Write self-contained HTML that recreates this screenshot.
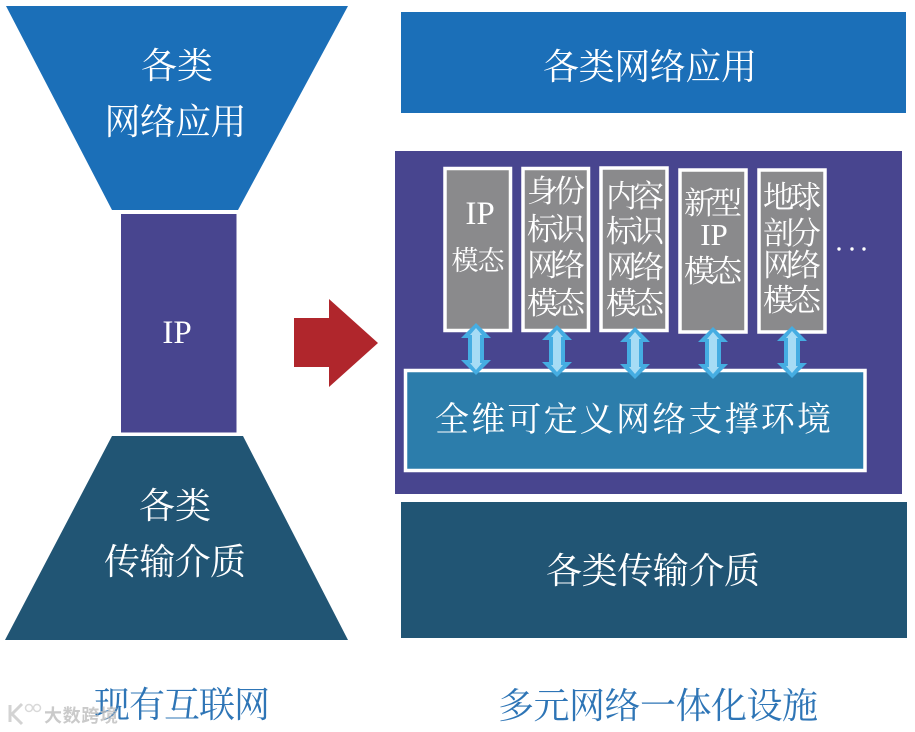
<!DOCTYPE html>
<html><head><meta charset="utf-8">
<style>
html,body{margin:0;padding:0;background:#fff;width:915px;height:732px;overflow:hidden}
svg{display:block}
text{font-family:"Liberation Serif","Noto Serif CJK SC",serif;fill:#fff;text-anchor:middle}
.t{font-size:36px}
.m{font-size:31px}
.s{font-size:29px}
.b{fill:#2e75b6;font-size:36px}
</style></head><body>
<svg width="915" height="732" viewBox="0 0 915 732" xmlns="http://www.w3.org/2000/svg">
<defs>
<g id="a">
<path d="M0 0L15 15H8V37H15L0 52L-15 37H-8V15H-15Z" fill="#45ade2"/>
<path d="M0 5L6 12H4V40H6L0 47L-6 40H-4V12H-6Z" fill="#a6dcf5"/>
</g>
</defs>
<!-- left funnel -->
<polygon points="6,6 348,6 238,210 112,210" fill="#1b6fb8"/>
<text class="t" x="177" y="78" textLength="72">各类</text>
<text class="t" x="175.500" y="134" textLength="142">网络应用</text>
<rect x="119.500" y="212.500" width="118.500" height="221.500" fill="#48458f" stroke="#fff" stroke-width="3"/>
<text x="177" y="343" style="font-size:33px">IP</text>
<polygon points="112,436 243,436 348,640 5,640" fill="#215574"/>
<text class="t" x="175" y="518" textLength="72">各类</text>
<text class="t" x="175" y="574" textLength="142">传输介质</text>
<!-- red arrow -->
<polygon points="294,318 329,318 329,299 378,343 329,387 329,367 294,367" fill="#b0262c"/>
<!-- right -->
<rect x="401" y="12" width="505" height="101" fill="#1b6fb8"/>
<text class="t" x="650" y="79" textLength="214">各类网络应用</text>
<rect x="395" y="151" width="507" height="343" fill="#48458f"/>
<rect x="401" y="502" width="506" height="136" fill="#215574"/>
<text class="t" x="653" y="583" textLength="214">各类传输介质</text>
<!-- modal boxes -->
<g fill="#8a8a8c" stroke="#fff" stroke-width="3.500">
<rect x="445" y="168.500" width="65.500" height="162"/>
<rect x="523" y="168.500" width="65.500" height="162"/>
<rect x="601" y="168" width="66" height="162.500"/>
<rect x="680" y="170" width="66" height="162"/>
<rect x="759" y="170" width="66" height="162"/>
</g>
<text x="480" y="224" style="font-size:33px">IP</text>
<text class="s" x="478" y="270" textLength="53" style="font-size:27px">模态</text>
<g class="m">
<text class="m" x="556" y="202" textLength="58">身份</text>
<text class="m" x="556" y="240" textLength="58">标识</text>
<text class="m" x="556" y="276" textLength="58">网络</text>
<text class="m" x="556" y="314" textLength="58">模态</text>
<text class="m" x="635" y="207" textLength="58">内容</text>
<text class="m" x="635" y="242" textLength="58">标识</text>
<text class="m" x="635" y="278" textLength="58">网络</text>
<text class="m" x="635" y="314" textLength="58">模态</text>
<text class="m" x="713" y="214" textLength="58">新型</text>
<text class="m" x="714" y="245" style="font-size:31px">IP</text>
<text class="m" x="713" y="282" textLength="58">模态</text>
<text class="m" x="792" y="208" textLength="58">地球</text>
<text class="m" x="792" y="244" textLength="58">剖分</text>
<text class="m" x="792" y="276" textLength="58">网络</text>
<text class="m" x="792" y="311" textLength="58">模态</text>
</g>
<g fill="#fff"><circle cx="839" cy="249" r="1.700"/><circle cx="852" cy="249" r="1.700"/><circle cx="864" cy="249" r="1.700"/></g>
<!-- base -->
<rect x="405.500" y="370.500" width="459.500" height="100" fill="#2c7dab" stroke="#fff" stroke-width="3.500"/>
<text x="633" y="431" style="font-size:34px" textLength="396">全维可定义网络支撑环境</text>
<use href="#a" x="476" y="323"/>
<use href="#a" x="557" y="325"/>
<use href="#a" x="635" y="327"/>
<use href="#a" x="713" y="327"/>
<use href="#a" x="792" y="326"/>
<!-- captions -->
<text class="b" x="182" y="717" textLength="176">现有互联网</text>
<text class="b" x="658" y="718" textLength="320">多元网络一体化设施</text>
<!-- watermark -->
<g opacity=".8">
<path d="M10 705V722M22 704L12 714L22 724" fill="none" stroke="#c9c9c9" stroke-width="3"/>
<circle cx="29" cy="708" r="3.500" fill="none" stroke="#d0d0d0" stroke-width="1.500"/>
<circle cx="37" cy="708" r="3.500" fill="none" stroke="#d0d0d0" stroke-width="1.500"/>
<text x="81" y="722" style="font-size:18px;fill:#bdbdbd;font-family:'Liberation Sans','Noto Sans CJK SC',sans-serif;font-weight:bold" textLength="74">大数跨境</text>
</g>
</svg>
</body></html>
